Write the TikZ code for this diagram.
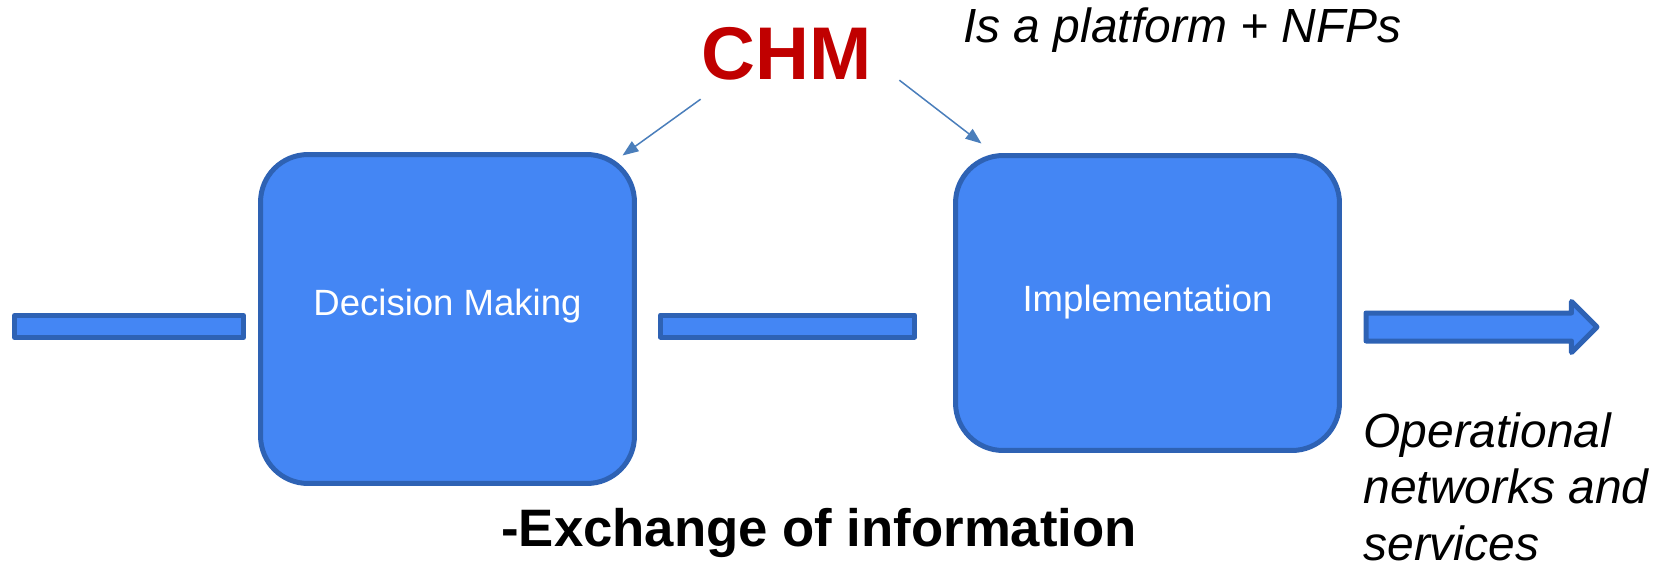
\documentclass[tikz,border=0pt]{standalone}
\usepackage{fontspec}
\setmainfont{Liberation Sans}
\usetikzlibrary{arrows.meta,shapes.arrows}

\definecolor{boxfill}{HTML}{4486F4}
\definecolor{boxline}{HTML}{2E62B4}
\definecolor{pointerblue}{HTML}{4A7EBB}
\definecolor{chmred}{HTML}{C00000}

\tikzset{
  stage/.style={draw=boxline, fill=boxfill, line width=0.1cm, rounded corners=0.95cm, inner sep=0},
  stagetext/.style={text=white, font=\fontsize{20.8}{25}\selectfont, inner sep=0, anchor=base},
  bar/.style={draw=boxline, fill=boxfill, line width=0.1cm, line join=round, inner sep=0, minimum height=0.44cm},
  pointer/.style={draw=pointerblue, line width=0.03cm, -{Triangle[length=0.32cm,width=0.24cm]}},
  note/.style={font=\fontsize{27.3}{32.3}\selectfont\itshape, inner sep=0}
}

\begin{document}
\begin{tikzpicture}[x=0.02cm, y=0.02cm]
  \useasboundingbox (0,0) rectangle (1657,-568);
  % stages
  \node[stage, minimum width=7.48cm, minimum height=6.58cm] (dm) at (447.5,-319) {};
  \node[stage, minimum width=7.68cm, minimum height=5.9cm] (impl) at (1147.5,-303) {};
  \node[stagetext] (dmtext) at ([yshift=0.08cm]dm.center) {Decision Making};
  \node[stagetext] (impltext) at ([yshift=-0.16cm]impl.center) {Implementation};
  % flow bars
  \node[bar, minimum width=4.58cm] (lead) at (129,-326.5) {};
  \node[bar, minimum width=5.08cm] (link) at (787.5,-326) {};
  \node[bar, single arrow, minimum height=4.62cm, minimum width=0.92cm, inner ysep=0.23cm,
    single arrow head extend=0.23cm, anchor=tail] (out) at (1363.5,-327) {};
  % texts
  \node[font=\fontsize{42.5}{50}\selectfont\bfseries, text=chmred, inner sep=0] (chm) at (787,-53.5) {CHM};
  \node[note, anchor=base west] (platform) at (963,-42) {Is a platform + NFPs};
  \node[font=\fontsize{30}{36}\selectfont\bfseries, inner sep=0, anchor=base west] (exchange) at (501,-546) {-Exchange of information};
  \node[note, anchor=north west, align=left] (networks) at (1363,-412) {Operational\\networks and\\services};
  % pointers
  \draw[pointer] ([shift={(-1,-20)}]chm.base west) -- ([shift={(-14.5,-3.5)}]dm.north east);
  \draw[pointer] ([shift={(27,-1)}]chm.base east) -- ([shift={(28.5,9.5)}]impl.north west);
\end{tikzpicture}
\end{document}
